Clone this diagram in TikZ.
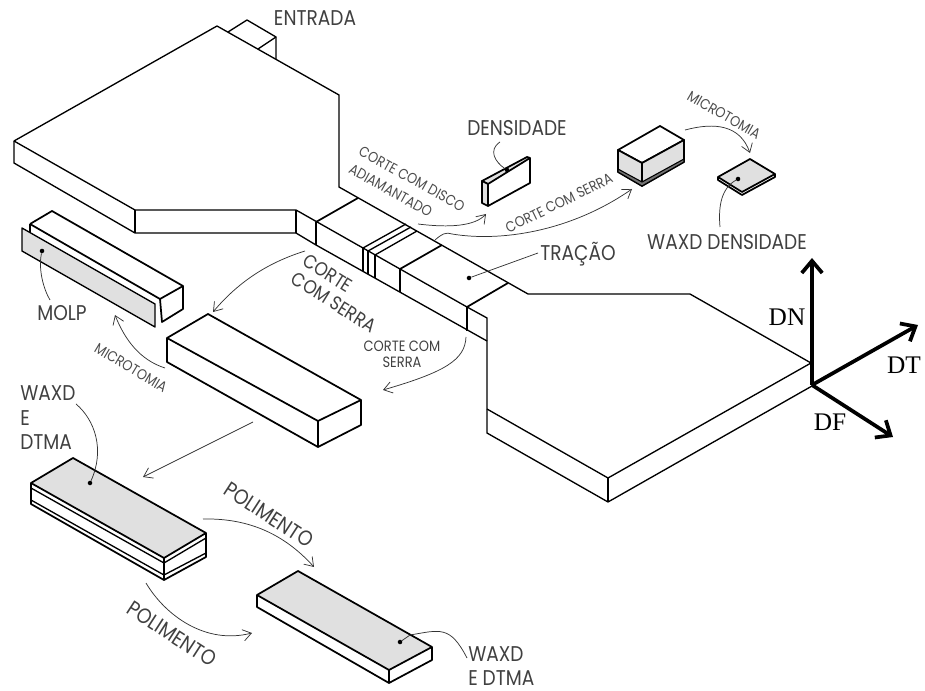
\documentclass[tikz,border=0pt]{standalone}
\usepackage{fontspec}
\setmainfont{Poppins}[FakeStretch=0.87]
\newfontfamily\axisfont{Liberation Serif}
\usetikzlibrary{arrows.meta}

\begin{document}
\begin{tikzpicture}[
  x=0.75pt, y=-0.75pt,
  edge/.style={line width=1pt, line join=round, black},
  heavy/.style={edge, line width=1.3pt},
  face/.style={heavy, fill=black!12},
  lab/.style={font=\fontsize{16}{18.4}\selectfont, text=black!75, inner sep=0pt, align=left},
  small/.style={font=\fontsize{11}{15.4}\selectfont, text=black!70, inner sep=0pt, align=left},
  mid/.style={font=\fontsize{11.2}{12}\selectfont, text=black!75, inner sep=0pt, align=left},
  arr/.style={-{Straight Barb[length=2.2mm,width=3mm]}, line width=0.55pt, black!80},
  lead/.style={line width=0.55pt, black!80},
  axis/.style={-{Straight Barb[length=3.2mm,width=5.4mm]}, line width=2.8pt, black},
  axlab/.style={font=\axisfont\fontsize{19}{19}\selectfont, inner sep=0pt},
  spot/.style={circle, fill=black, inner sep=0pt, minimum size=3.4pt}
]
\useasboundingbox (0,0) rectangle (925,691);

% specimen
\draw[edge] (228,32)--(247,20)--(276,37)--(276,59);
\draw[edge] (276,37)--(258,49);
\draw[edge] (14,141)--(217,26)--(339,95)--(339,187)--(528,294)--(690,294)--(811,363)--(608,478)--(487,409);
\draw[edge] (14,141)--(14,163)--(135,233)--(296,233)--(316,245)--(487,341);
\draw[edge] (14,141)--(135,210)--(296,210)--(467,307)--(487,318)--(487,433)--(608,502)--(812,386)--(811,363);
\draw[edge] (135,210)--(135,233) (296,210)--(296,233) (608,478)--(608,502);
\draw[edge] (316,222)--(316,245) (467,307)--(467,331);
\draw[heavy] (316,222)--(358,198) (400,269)--(442,245) (467,307)--(508,283);
\draw[edge] (363,248)--(406,224) (368,251)--(411,227) (375,255)--(417,231);
\draw[edge] (363,248)--(363,271) (368,251)--(368,274) (375,255)--(375,278) (400,269)--(400,292);

% MOLP
\draw[heavy] (30,224)--(52,211)--(183,286)--(160,299)--(30,224);
\draw[heavy] (30,224)--(30,232);
\draw[heavy] (183,286)--(183,309)--(162,322)--(160,299);
\draw[face, line width=1pt] (22,228)--(155,304)--(155,327)--(22,251)--cycle;

% block
\draw[heavy] (167,338)--(208,314)--(361,400)--(318,421)--cycle;
\draw[heavy] (167,338)--(167,362)--(318,447)--(318,421);
\draw[heavy] (361,400)--(361,425)--(318,447);

% WAXD block
\draw[face] (31,483)--(73,458)--(206,533)--(164,558)--cycle;
\draw[heavy] (31,483)--(31,504)--(164,580)--(206,557)--(206,533);
\draw[heavy] (164,558)--(164,580);
\draw[edge] (31,488)--(164,563)--(206,538) (31,500)--(164,575)--(206,553);

% plate
\draw[face] (257,595)--(298,571)--(432,647)--(389,670)--cycle;
\draw[heavy] (257,595)--(257,607)--(389,683)--(432,660)--(432,647);
\draw[heavy] (389,670)--(389,683);

% density piece
\draw[face] (482,181)--(527,157)--(530,158)--(488,184)--cycle;
\draw[face] (482,181)--(488,184)--(488,206)--(482,203)--cycle;
\draw[heavy] (530,158)--(530,183)--(488,206);

% box
\draw[heavy] (618,150)--(660,126)--(684,140)--(642,163)--cycle;
\draw[face] (618,150)--(642,163)--(642,186)--(618,172)--cycle;
\draw[face] (642,163)--(684,140)--(684,162)--(642,186)--cycle;
\draw[fill=black!55, draw=black, line width=0.8pt] (618,169)--(642,182)--(684,159)--(684,162)--(642,186)--(618,172)--cycle;

% small plate
\draw[face] (718,177)--(750,159)--(775,174)--(742,192)--cycle;
\draw[heavy] (718,177)--(718,180)--(742,195)--(775,177)--(775,174);

\coordinate (discoA) at (418,224);  \coordinate (discoB) at (486,214);
\coordinate (serraA) at (435,240);  \coordinate (serraB) at (632,189);
\coordinate (microA) at (685,130);  \coordinate (microB) at (750,153);
\coordinate (bigA) at (305,251);    \coordinate (bigB) at (213,312);
\coordinate (microC) at (165,368);  \coordinate (microD) at (115,315);
\coordinate (lowA) at (466,337);    \coordinate (lowB) at (383,390);
\coordinate (cutA) at (253,422);    \coordinate (cutB) at (143,477);
\coordinate (poliA) at (203,519);   \coordinate (poliB) at (314,567);
\coordinate (poliC) at (146,583);   \coordinate (poliD) at (252,633);
\coordinate (molpA) at (50,300);    \coordinate (densA) at (500,142);
\coordinate (tracA) at (538,253);   \coordinate (waxA) at (720,227);
\coordinate (waxB) at (76,404);     \coordinate (waxC) at (467,658);

\node[spot] (dotdens) at (507,170) {};
\node[spot] (dottrac) at (469,278) {};
\node[spot] (dotwax) at (738,179) {};
\node[spot] (dotmolp) at (42,251) {};
\node[spot] (dotblock) at (90,483) {};
\node[spot] (dotplate) at (400,642) {};

\node[lab] (entrada) at (315,18) {ENTRADA};
\node[lab] (dens) at (517,128) {DENSIDADE};
\node[lab] (trac) at (578,254) {TRAÇÃO};
\node[lab] (waxdens) at (727,242) {WAXD DENSIDADE};
\node[lab] (molp) at (62,313) {MOLP};
\node[lab, anchor=west] (waxleft) at (20,418) {WAXD\\E\\DTMA};
\node[lab, anchor=west] (waxright) at (468,666) {WAXD\\E DTMA};
\node[lab, font=\fontsize{14.5}{16}\selectfont, rotate=-32, anchor=west] (corte) at (299,268) {CORTE\\COM SERRA};
\node[lab, font=\fontsize{16}{18}\selectfont, rotate=-33] (poli1) at (269,515) {POLIMENTO};
\node[lab, font=\fontsize{16}{18}\selectfont, rotate=-33] (poli2) at (172,634) {POLIMENTO};
\node[small, rotate=-29, anchor=west] (disco) at (355,159) {CORTE COM DISCO\\ADIAMANTADO};
\node[small, rotate=26] (serra) at (559,203) {CORTE COM SERRA};
\node[small, rotate=-30] (micro1) at (724,115) {MICROTOMIA};
\node[small, rotate=-31] (micro2) at (131,368) {MICROTOMIA};
\node[mid, align=center] (serra2) at (402,354) {CORTE COM\\SERRA};

\draw[arr] (discoA) .. controls (450,228) and (475,226) .. (discoB);
\draw[arr] (serraA) .. controls (442,234) and (445,232) .. (452,234) .. controls (500,242) and (570,232) .. (serraB);
\draw[arr] (microA) .. controls (715,122) and (740,125) .. (microB);
\draw[arr] (bigA) .. controls (270,262) and (240,280) .. (bigB);
\draw[arr] (microC) .. controls (140,360) and (125,340) .. (microD);
\draw[arr] (lowA) .. controls (465,360) and (445,372) .. (lowB);
\draw[arr] (cutA)--(cutB);
\draw[arr] (poliA) .. controls (250,518) and (285,535) .. (poliB);
\draw[arr] (poliC) .. controls (165,615) and (205,645) .. (poliD);

\draw[lead] (molpA) .. controls (44,290) and (38,270) .. (dotmolp);
\draw[lead] (densA) .. controls (488,150) and (495,162) .. (dotdens);
\draw[lead] (tracA)--(dottrac);
\draw[lead] (waxA) .. controls (718,205) and (722,188) .. (dotwax);
\draw[lead] (waxB) .. controls (95,420) and (105,450) .. (dotblock);
\draw[lead] (waxC) .. controls (450,625) and (440,630) .. (410,635) -- (dotplate);

\coordinate (origin) at (812,385);
\coordinate (dnend) at (812,258);
\coordinate (dtend) at (918,325);
\coordinate (dfend) at (893,437);
\draw[axis] (origin)--(dnend);
\draw[axis] (origin)--(dtend);
\draw[axis] (origin)--(dfend);
\node[axlab] (dn) at (787,317) {DN};
\node[axlab] (dt) at (904,365) {DT};
\node[axlab] (df) at (830,422) {DF};
\end{tikzpicture}
\end{document}
